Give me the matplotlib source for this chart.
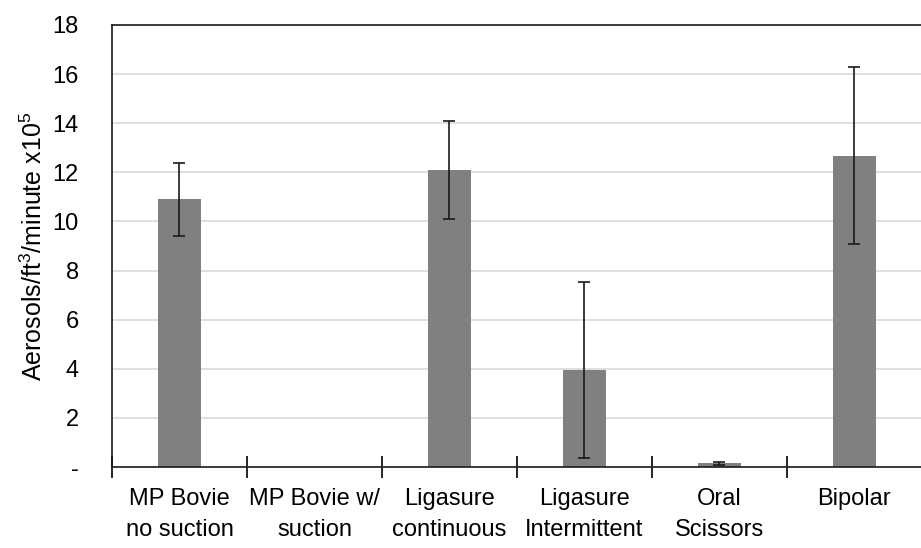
import matplotlib
matplotlib.use("Agg")
import matplotlib.pyplot as plt
from matplotlib.ticker import FuncFormatter, FixedLocator
import numpy as np

plt.rcParams["font.family"] = ["Liberation Sans", "DejaVu Sans"]
plt.rcParams["mathtext.fontset"] = "custom"
plt.rcParams["mathtext.rm"] = "Liberation Sans"
plt.rcParams["mathtext.it"] = "Liberation Sans"

# ── Data ──────────────────────────────────────────────────────────────────────
categories = ["MP Bovie\nno suction", "MP Bovie w/\nsuction", "Ligasure\ncontinuous",
              "Ligasure\nIntermittent", "Oral\nScissors", "Bipolar"]
means = [10.9, 0.0, 12.1, 3.95, 0.16, 12.67]
errors = [1.5, 0.0, 2.0, 3.6, 0.06, 3.6]
show_err = [True, False, True, True, True, True]

fig = plt.figure(figsize=(9.21, 5.48), dpi=100)
ax = fig.add_axes([0.1216, 0.1478, 0.885, 0.8066])

x = np.arange(len(categories))
ax.bar(x, means, width=0.32, color="#808080", zorder=2)
mask = np.array(show_err)
ax.errorbar(x[mask], np.array(means)[mask], yerr=np.array(errors)[mask], fmt="none",
            ecolor="#1a1a1a", elinewidth=1.2, capsize=4, capthick=1.2, zorder=3)

ax.set_xlim(-0.5, len(categories) - 0.5 + 0.04)
ax.set_ylim(0, 18)
ax.set_yticks(np.arange(0, 19, 2))
ax.yaxis.set_major_formatter(FuncFormatter(lambda v, p: "-" if v == 0 else f"{v:g}"))
ax.grid(axis="y", color="#d9d9d9", linewidth=1.2, zorder=0)
ax.set_axisbelow(True)

ax.set_xticks(x)
ax.set_xticklabels(categories, linespacing=1.55)
ax.xaxis.set_minor_locator(FixedLocator(np.arange(len(categories)) - 0.5))
ax.tick_params(axis="x", which="major", length=0, pad=15, labelsize=17)
ax.tick_params(axis="x", which="minor", length=16, direction="inout", width=1.2)
ax.tick_params(axis="y", length=0, pad=24, labelsize=17)

for s in ["left", "top", "bottom"]:
    ax.spines[s].set_linewidth(1.2)
    ax.spines[s].set_color("#1a1a1a")
ax.spines["right"].set_visible(False)

ax.set_ylabel("Aerosols/ft$^3$/minute x10$^5$", fontsize=18, labelpad=4)

fig.savefig("out.png", dpi=100)
